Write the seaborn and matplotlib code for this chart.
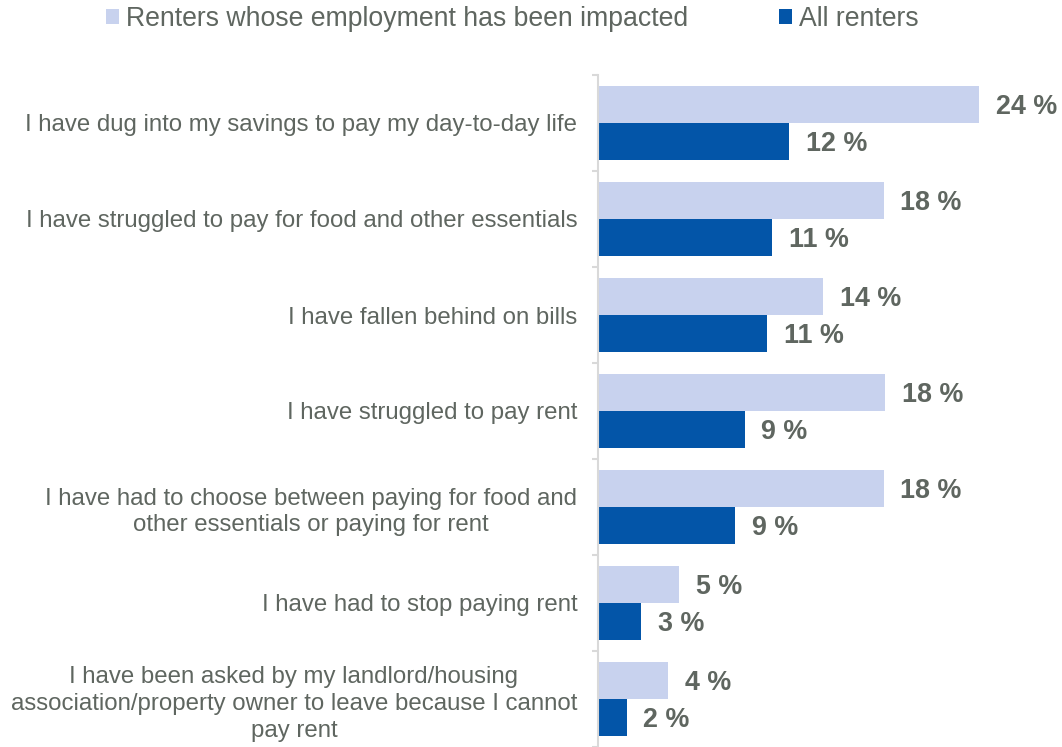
import matplotlib
matplotlib.use("Agg")
import matplotlib.pyplot as plt
from matplotlib.patches import Patch
from matplotlib.ticker import FixedLocator
import numpy as np
import pandas as pd
import seaborn as sns

# Survey responses: share of renters reporting each financial hardship
categories = [
    "I have dug into my savings to pay my day-to-day life",
    "I have struggled to pay for food and other essentials",
    "I have fallen behind on bills",
    "I have struggled to pay rent",
    "I have had to choose between paying for food and\nother essentials or paying for rent",
    "I have had to stop paying rent",
    "I have been asked by my landlord/housing\nassociation/property owner to leave because I cannot\npay rent",
]
series_names = ["Renters whose employment has been impacted", "All renters"]
impacted_values = [23.9, 17.9, 14.1, 18.0, 17.9, 5.1, 4.4]
all_renters_values = [12.0, 10.9, 10.6, 9.2, 8.6, 2.7, 1.8]

colors = ["#C8D2EE", "#0355A8"]
text_color = "#5F6660"
axis_color = "#D9D9D9"

df = pd.DataFrame({
    "category": categories * 2,
    "group": [series_names[0]] * len(categories) + [series_names[1]] * len(categories),
    "value": impacted_values + all_renters_values,
})

sns.set_theme(style="white")
plt.rcParams["font.family"] = ["Liberation Sans", "DejaVu Sans"]

fig = plt.figure(figsize=(10.62, 7.47), dpi=100)
ax = fig.add_axes([598 / 1062, 0.0, 1 - 598 / 1062, 1 - 75 / 747])

sns.barplot(
    data=df, x="value", y="category", hue="group",
    hue_order=series_names, order=categories,
    palette=colors, orient="h", width=0.77, saturation=1,
    errorbar=None, legend=False, ax=ax,
)
for patch in ax.patches:
    patch.set_linewidth(0)

ax.set_xlim(0, (1062 - 598) / 15.95)
ax.set_ylim(len(categories) - 0.5, -0.5)

# value labels at the end of each bar
for container in ax.containers:
    texts = ax.bar_label(
        container, labels=[f"{v:.0f} %" for v in container.datavalues],
        padding=12, fontsize=19.4, fontweight="bold", color=text_color,
    )
    for t in texts:
        t.xyann = (t.xyann[0], t.xyann[1] - 2)

ax.set_xlabel("")
ax.set_ylabel("")
ax.set_xticks([])
for side in ["top", "right", "bottom"]:
    ax.spines[side].set_visible(False)
ax.spines["left"].set_color(axis_color)
ax.spines["left"].set_linewidth(1.5)

ax.tick_params(axis="y", which="major", length=0, pad=15,
               labelsize=17.3, labelcolor=text_color)
for lbl in ax.get_yticklabels():
    lbl.set_multialignment("center")
    lbl.set_linespacing(1.28)
ax.yaxis.set_minor_locator(FixedLocator(np.arange(-0.5, len(categories), 1.0)))
ax.tick_params(axis="y", which="minor", length=4.5, width=1.5,
               color=axis_color, left=True)

handles = [Patch(facecolor=c, edgecolor="none") for c in colors]
fig.legend(
    handles, series_names, loc="center left",
    bbox_to_anchor=(106 / 1062, 1 - 19 / 747), ncol=2, frameon=False,
    fontsize=19.2, handlelength=0.49, handleheight=0.49, handletextpad=0.27,
    columnspacing=3.4, borderpad=0, borderaxespad=0, labelcolor=text_color,
)

fig.savefig("out.png", dpi=100)
